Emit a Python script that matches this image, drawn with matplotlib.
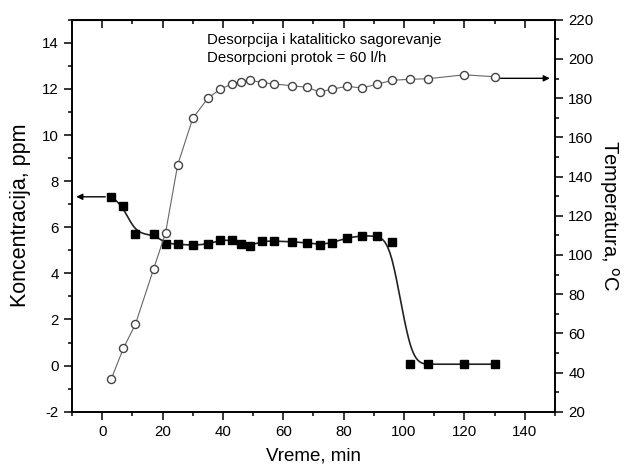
import numpy as np
import matplotlib
matplotlib.use("Agg")
from matplotlib import pyplot as plt
from matplotlib.ticker import MultipleLocator

plt.rcParams['font.family'] = ['Liberation Sans', 'DejaVu Sans']
plt.rcParams['axes.unicode_minus'] = False

# sampling times, min
time_min = [3, 7, 11, 17, 21, 25, 30, 35, 39, 43, 46, 49, 53, 57, 63, 68,
            72, 76, 81, 86, 91, 96, 102, 108, 120, 130]
# concentration, ppm (left axis)
concentration = [7.32, 6.91, 5.70, 5.70, 5.29, 5.27, 5.21, 5.27, 5.44, 5.44,
                 5.29, 5.19, 5.40, 5.40, 5.37, 5.32, 5.25, 5.32, 5.54, 5.63,
                 5.63, 5.34, 0.06, 0.06, 0.06, 0.06]
# bed temperature, C (right axis)
temperature = [36.7, 52.3, 64.6, 92.7, 111.3, 145.9, 169.7, 179.9, 184.5, 187.2,
               188.4, 189.2, 187.9, 187.2, 186.3, 185.5, 183.1, 184.5, 186.0, 185.2,
               187.0, 189.1, 189.6, 189.9, 191.9, 190.9]

title_lines = ["Desorpcija i kataliticko sagorevanje", "Desorpcioni protok = 60 l/h"]


def bspline(xs, ys, n=25):
    # clamped uniform cubic B-spline using the points as control points
    px = np.r_[[xs[0]] * 2, xs, [xs[-1]] * 2].astype(float)
    py = np.r_[[ys[0]] * 2, ys, [ys[-1]] * 2].astype(float)
    t = np.linspace(0, 1, n, endpoint=False)
    b0 = (1 - t) ** 3 / 6
    b1 = (3 * t ** 3 - 6 * t ** 2 + 4) / 6
    b2 = (-3 * t ** 3 + 3 * t ** 2 + 3 * t + 1) / 6
    b3 = t ** 3 / 6
    cx, cy = [], []
    for i in range(len(px) - 3):
        cx.append(b0 * px[i] + b1 * px[i + 1] + b2 * px[i + 2] + b3 * px[i + 3])
        cy.append(b0 * py[i] + b1 * py[i + 1] + b2 * py[i + 2] + b3 * py[i + 3])
    cx.append([xs[-1]])
    cy.append([ys[-1]])
    return np.concatenate(cx), np.concatenate(cy)


fig = plt.figure(figsize=(6.24, 4.66), dpi=100)
ax = fig.add_axes([0.1154, 0.1165, 0.7740, 0.8412])
ax2 = ax.twinx()

# concentration: smoothed line + filled squares
sx, sy = bspline(time_min, concentration)
ax.plot(sx, sy, color='#222222', lw=1.2, zorder=2)
ax.plot(time_min, concentration, ls='none', marker='s', ms=5.5,
        color='black', zorder=3)

# temperature: straight segments + open circles
ax2.plot(time_min, temperature, color='#666666', lw=0.8, marker='o', ms=5.8,
         mfc='white', mec='#444444', mew=1.0)

ax.set_xlim(-10, 150)
ax.set_ylim(-2, 15)
ax2.set_ylim(20, 220)

ax.xaxis.set_major_locator(MultipleLocator(20))
ax.xaxis.set_minor_locator(MultipleLocator(10))
ax.yaxis.set_major_locator(MultipleLocator(2))
ax.yaxis.set_minor_locator(MultipleLocator(1))
ax2.yaxis.set_major_locator(MultipleLocator(20))
ax2.yaxis.set_minor_locator(MultipleLocator(10))

ax.tick_params(which='both', direction='out', labelsize=10.8, width=1.1)
ax.tick_params(which='major', length=6)
ax.tick_params(which='minor', length=3)
ax2.tick_params(which='both', direction='out', labelsize=10.8, width=1.1)
ax2.tick_params(which='major', length=6)
ax2.tick_params(which='minor', length=3)

# inward ticks on the top edge, no labels
top = ax.secondary_xaxis('top')
top.xaxis.set_major_locator(MultipleLocator(20))
top.xaxis.set_minor_locator(MultipleLocator(10))
top.tick_params(which='both', direction='in', labeltop=False, width=1.1)
top.tick_params(which='major', length=6)
top.tick_params(which='minor', length=3)

for a in (ax, ax2):
    for sp in a.spines.values():
        sp.set_linewidth(1.2)

ax.set_xlabel('Vreme, min', fontsize=13.5, labelpad=6)
ax.set_ylabel('Koncentracija, ppm', fontsize=15.5, labelpad=8)
ax2.set_ylabel('Temperatura, $^{\\mathrm{o}}$C', fontsize=14.5, rotation=-90,
               labelpad=20)

# arrows pointing each series to its axis
ax.annotate('', xy=(-8.6, concentration[0]), xytext=(1, concentration[0]),
            arrowprops=dict(arrowstyle='-|>', color='black', lw=1.0,
                            mutation_scale=9, shrinkA=0, shrinkB=0))
ax2.annotate('', xy=(148.3, temperature[-1] - 0.8), xytext=(132, temperature[-1] - 0.8),
             arrowprops=dict(arrowstyle='-|>', color='black', lw=1.0,
                             mutation_scale=9, shrinkA=0, shrinkB=0))

ax.text(34.8, 13.94, title_lines[0], fontsize=10.8, va='baseline')
ax.text(34.8, 13.16, title_lines[1], fontsize=10.8, va='baseline')

fig.savefig('out.png', dpi=100)
